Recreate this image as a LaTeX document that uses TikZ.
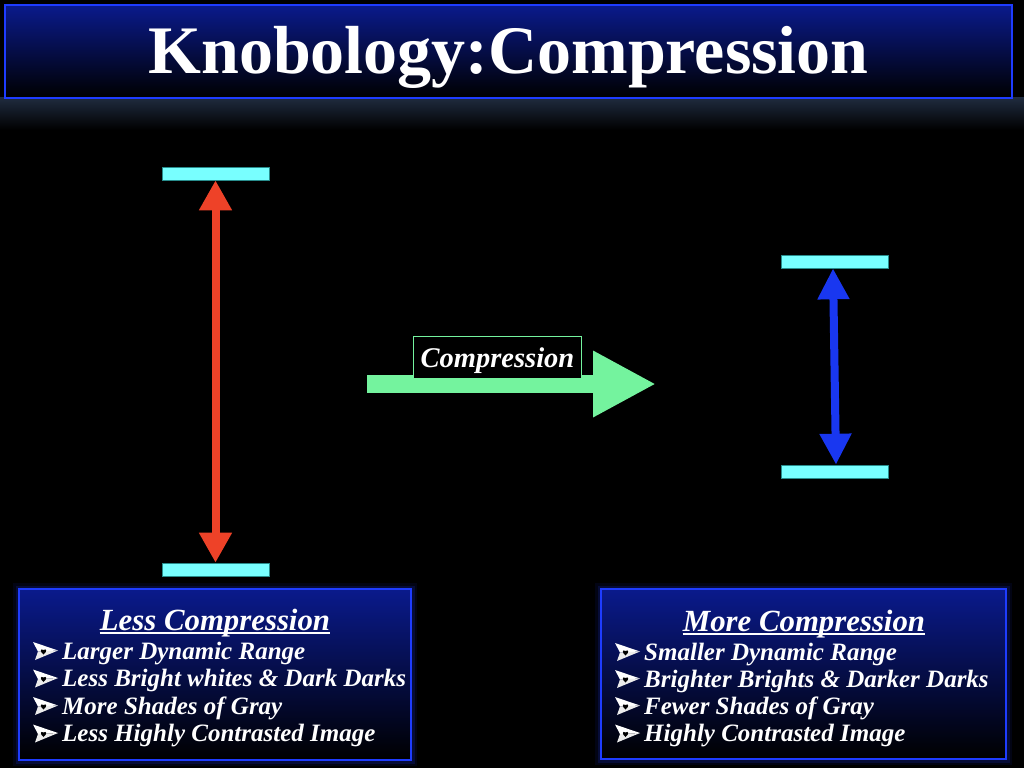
\documentclass[tikz,border=0pt]{standalone}
\usepackage{fontspec}
\setmainfont{Liberation Serif}
\usetikzlibrary{arrows.meta}
\definecolor{bgblue}{RGB}{10,26,140}
\definecolor{edgeblue}{RGB}{30,60,255}
\definecolor{barcyan}{RGB}{120,255,255}
\definecolor{bardark}{RGB}{40,140,140}
\definecolor{redarrow}{RGB}{238,66,40}
\definecolor{bluearrow}{RGB}{25,55,240}
\definecolor{greenarrow}{RGB}{116,243,158}
\definecolor{glowgray}{RGB}{32,44,64}
\begin{document}
\begin{tikzpicture}[x=1pt,y=-1pt,
  bar/.style={rectangle, inner sep=0pt, minimum width=107pt, minimum height=13pt, fill=barcyan, draw=bardark, line width=0.6pt},
  panel/.style={rectangle, inner sep=0pt, draw=edgeblue, line width=2pt, top color=bgblue, bottom color=black,
     preaction={draw=edgeblue, line width=12pt, opacity=0.08},
     preaction={draw=edgeblue, line width=7pt, opacity=0.15}},
  titlebox/.style={rectangle, inner sep=0pt, draw=edgeblue, line width=2pt, top color=bgblue, bottom color=black},
  titletext/.style={anchor=base, inner sep=0pt, text=white, font=\fontsize{68}{70}\selectfont\bfseries},
  headtext/.style={anchor=base, inner sep=0pt, text=white, font=\fontsize{30.8}{33}\selectfont\bfseries\itshape},
  itemtext/.style={anchor=base west, inner sep=0pt, text=white, font=\fontsize{25}{27}\selectfont\bfseries\itshape},
  labelbox/.style={rectangle, inner sep=0pt, fill=black, draw=greenarrow, line width=0.8pt, minimum width=168pt, minimum height=41.5pt},
  labeltext/.style={anchor=base, inner sep=0pt, text=white, font=\fontsize{28.5}{30}\selectfont\bfseries\itshape},
  redarr/.style={draw=redarrow, line width=8pt, {Triangle[length=30pt,width=31pt]}-{Triangle[length=30pt,width=31pt]}},
  bluearr/.style={draw=bluearrow, line width=8pt, {Triangle[length=31pt,width=30pt]}-{Triangle[length=31pt,width=30pt]}},
  greenarr/.style={draw=greenarrow, line width=17.5pt, -{Triangle[length=63pt,width=62pt]}},
  bul/.pic={
    \fill[white] (0,0) -- (25,8.5) -- (5,9.5) -- cycle;
    \fill[white!85!gray] (5,9.5) -- (25,8.5) -- (2,18) -- cycle;
    \fill[black] (10.5,12.5) .. controls (6.5,9.5) and (7.5,6) .. (10.5,8) .. controls (13.5,6) and (14.5,9.5) .. (10.5,12.5) -- cycle;
  }
]
\fill[black] (0,0) rectangle (1024,768);
\useasboundingbox (0,0) rectangle (1024,768);

% title glow and box
\shade[top color=glowgray, bottom color=black] (0,97) rectangle (1024,130);
\node[titlebox, minimum width=1007pt, minimum height=93pt] (title) at (508.5,51.5) {};
\node[titletext] (titlet) at (508.5,74) {Knobology:Compression};

% left scale
\node[bar] (ltop) at (215.5,173.5) {};
\node[bar] (lbot) at (215.5,569.5) {};
\draw[redarr] (ltop.south) -- (lbot.north);

% right scale
\node[bar] (rtop) at (834.5,261.5) {};
\node[bar] (rbot) at (834.5,471.5) {};
\draw[bluearr] ([xshift=-1.5pt]rtop.south) -- ([xshift=1.5pt]rbot.north);

% compression arrow
\coordinate (gs) at (367,384);
\coordinate (ge) at (656,384);
\draw[greenarr] (gs) -- (ge);
\node[labelbox] (lab) at (497.5,357.5) {};
\node[labeltext] (labt) at (497.5,367) {Compression};

% left panel
\node[panel, minimum width=392pt, minimum height=171pt] (lbox) at (215,674.5) {};
\node[headtext] (lhead) at (215,630) {Less Compression};
\draw[white, line width=2pt] ([yshift=-2.5pt]lhead.base west) -- ([yshift=-2.5pt]lhead.base east);
\foreach \yy/\txt [count=\i] in {659/Larger Dynamic Range, 686.5/Less Bright whites \& Dark Darks, 714/More Shades of Gray, 741.5/Less Highly Contrasted Image}{
  \pic at (33,\yy-17) {bul};
  \node[itemtext] (litem\i) at (62,\yy) {\txt};
}

% right panel
\node[panel, minimum width=405pt, minimum height=170pt] (rbox) at (803.5,674) {};
\node[headtext] (rhead) at (804,631) {More Compression};
\draw[white, line width=2pt] ([yshift=-2.5pt]rhead.base west) -- ([yshift=-2.5pt]rhead.base east);
\foreach \yy/\txt [count=\i] in {660/Smaller Dynamic Range, 687/Brighter Brights \& Darker Darks, 714/Fewer Shades of Gray, 741.5/Highly Contrasted Image}{
  \pic at (615,\yy-17) {bul};
  \node[itemtext] (ritem\i) at (644,\yy) {\txt};
}
\end{tikzpicture}
\end{document}
